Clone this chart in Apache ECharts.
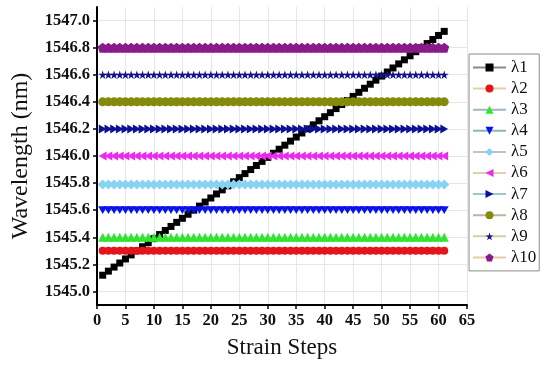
<!DOCTYPE html>
<html>
<head>
<meta charset="utf-8">
<script src="https://cdn.jsdelivr.net/npm/echarts@6/dist/echarts.min.js"></script>
<style>html,body{margin:0;padding:0;background:#fff}#c{width:550px;height:371px}</style>
</head>
<body>
<div id="c"></div>
<script>
const steps = [1,2,3,4,5,6,7,8,9,10,11,12,13,14,15,16,17,18,19,20,21,22,23,24,25,26,27,28,29,30,31,32,33,34,35,36,37,38,39,40,41,42,43,44,45,46,47,48,49,50,51,52,53,54,55,56,57,58,59,60,61];
const seriesNames = ['λ1','λ2','λ3','λ4','λ5','λ6','λ7','λ8','λ9','λ10'];
const yTicks = [1545.0,1545.2,1545.4,1545.6,1545.8,1546.0,1546.2,1546.4,1546.6,1546.8,1547.0];
const xTicks = [0,5,10,15,20,25,30,35,40,45,50,55,60,65];

const lambda1 = [1545.12,1545.15,1545.18,1545.21,1545.24,1545.27,1545.30,1545.33,1545.36,1545.39,
 1545.42,1545.45,1545.48,1545.51,1545.54,1545.57,1545.60,1545.63,1545.66,1545.69,
 1545.72,1545.75,1545.78,1545.81,1545.84,1545.87,1545.90,1545.93,1545.96,1545.99,
 1546.02,1546.05,1546.08,1546.11,1546.14,1546.17,1546.20,1546.23,1546.26,1546.29,
 1546.32,1546.35,1546.38,1546.41,1546.44,1546.47,1546.50,1546.53,1546.56,1546.59,
 1546.62,1546.65,1546.68,1546.71,1546.74,1546.77,1546.80,1546.83,1546.86,1546.89,1546.92];
const lambda2 = [1545.3,1545.3,1545.3,1545.3,1545.3,1545.3,1545.3,1545.3,1545.3,1545.3,1545.3,1545.3,1545.3,1545.3,1545.3,1545.3,1545.3,1545.3,1545.3,1545.3,1545.3,1545.3,1545.3,1545.3,1545.3,1545.3,1545.3,1545.3,1545.3,1545.3,1545.3,1545.3,1545.3,1545.3,1545.3,1545.3,1545.3,1545.3,1545.3,1545.3,1545.3,1545.3,1545.3,1545.3,1545.3,1545.3,1545.3,1545.3,1545.3,1545.3,1545.3,1545.3,1545.3,1545.3,1545.3,1545.3,1545.3,1545.3,1545.3,1545.3,1545.3];
const lambda3 = [1545.4,1545.4,1545.4,1545.4,1545.4,1545.4,1545.4,1545.4,1545.4,1545.4,1545.4,1545.4,1545.4,1545.4,1545.4,1545.4,1545.4,1545.4,1545.4,1545.4,1545.4,1545.4,1545.4,1545.4,1545.4,1545.4,1545.4,1545.4,1545.4,1545.4,1545.4,1545.4,1545.4,1545.4,1545.4,1545.4,1545.4,1545.4,1545.4,1545.4,1545.4,1545.4,1545.4,1545.4,1545.4,1545.4,1545.4,1545.4,1545.4,1545.4,1545.4,1545.4,1545.4,1545.4,1545.4,1545.4,1545.4,1545.4,1545.4,1545.4,1545.4];
const lambda4 = [1545.6,1545.6,1545.6,1545.6,1545.6,1545.6,1545.6,1545.6,1545.6,1545.6,1545.6,1545.6,1545.6,1545.6,1545.6,1545.6,1545.6,1545.6,1545.6,1545.6,1545.6,1545.6,1545.6,1545.6,1545.6,1545.6,1545.6,1545.6,1545.6,1545.6,1545.6,1545.6,1545.6,1545.6,1545.6,1545.6,1545.6,1545.6,1545.6,1545.6,1545.6,1545.6,1545.6,1545.6,1545.6,1545.6,1545.6,1545.6,1545.6,1545.6,1545.6,1545.6,1545.6,1545.6,1545.6,1545.6,1545.6,1545.6,1545.6,1545.6,1545.6];
const lambda5 = [1545.79,1545.79,1545.79,1545.79,1545.79,1545.79,1545.79,1545.79,1545.79,1545.79,1545.79,1545.79,1545.79,1545.79,1545.79,1545.79,1545.79,1545.79,1545.79,1545.79,1545.79,1545.79,1545.79,1545.79,1545.79,1545.79,1545.79,1545.79,1545.79,1545.79,1545.79,1545.79,1545.79,1545.79,1545.79,1545.79,1545.79,1545.79,1545.79,1545.79,1545.79,1545.79,1545.79,1545.79,1545.79,1545.79,1545.79,1545.79,1545.79,1545.79,1545.79,1545.79,1545.79,1545.79,1545.79,1545.79,1545.79,1545.79,1545.79,1545.79,1545.79];
const lambda6 = [1546.0,1546.0,1546.0,1546.0,1546.0,1546.0,1546.0,1546.0,1546.0,1546.0,1546.0,1546.0,1546.0,1546.0,1546.0,1546.0,1546.0,1546.0,1546.0,1546.0,1546.0,1546.0,1546.0,1546.0,1546.0,1546.0,1546.0,1546.0,1546.0,1546.0,1546.0,1546.0,1546.0,1546.0,1546.0,1546.0,1546.0,1546.0,1546.0,1546.0,1546.0,1546.0,1546.0,1546.0,1546.0,1546.0,1546.0,1546.0,1546.0,1546.0,1546.0,1546.0,1546.0,1546.0,1546.0,1546.0,1546.0,1546.0,1546.0,1546.0,1546.0];
const lambda7 = [1546.2,1546.2,1546.2,1546.2,1546.2,1546.2,1546.2,1546.2,1546.2,1546.2,1546.2,1546.2,1546.2,1546.2,1546.2,1546.2,1546.2,1546.2,1546.2,1546.2,1546.2,1546.2,1546.2,1546.2,1546.2,1546.2,1546.2,1546.2,1546.2,1546.2,1546.2,1546.2,1546.2,1546.2,1546.2,1546.2,1546.2,1546.2,1546.2,1546.2,1546.2,1546.2,1546.2,1546.2,1546.2,1546.2,1546.2,1546.2,1546.2,1546.2,1546.2,1546.2,1546.2,1546.2,1546.2,1546.2,1546.2,1546.2,1546.2,1546.2,1546.2];
const lambda8 = [1546.4,1546.4,1546.4,1546.4,1546.4,1546.4,1546.4,1546.4,1546.4,1546.4,1546.4,1546.4,1546.4,1546.4,1546.4,1546.4,1546.4,1546.4,1546.4,1546.4,1546.4,1546.4,1546.4,1546.4,1546.4,1546.4,1546.4,1546.4,1546.4,1546.4,1546.4,1546.4,1546.4,1546.4,1546.4,1546.4,1546.4,1546.4,1546.4,1546.4,1546.4,1546.4,1546.4,1546.4,1546.4,1546.4,1546.4,1546.4,1546.4,1546.4,1546.4,1546.4,1546.4,1546.4,1546.4,1546.4,1546.4,1546.4,1546.4,1546.4,1546.4];
const lambda9 = [1546.6,1546.6,1546.6,1546.6,1546.6,1546.6,1546.6,1546.6,1546.6,1546.6,1546.6,1546.6,1546.6,1546.6,1546.6,1546.6,1546.6,1546.6,1546.6,1546.6,1546.6,1546.6,1546.6,1546.6,1546.6,1546.6,1546.6,1546.6,1546.6,1546.6,1546.6,1546.6,1546.6,1546.6,1546.6,1546.6,1546.6,1546.6,1546.6,1546.6,1546.6,1546.6,1546.6,1546.6,1546.6,1546.6,1546.6,1546.6,1546.6,1546.6,1546.6,1546.6,1546.6,1546.6,1546.6,1546.6,1546.6,1546.6,1546.6,1546.6,1546.6];
const lambda10 = [1546.8,1546.8,1546.8,1546.8,1546.8,1546.8,1546.8,1546.8,1546.8,1546.8,1546.8,1546.8,1546.8,1546.8,1546.8,1546.8,1546.8,1546.8,1546.8,1546.8,1546.8,1546.8,1546.8,1546.8,1546.8,1546.8,1546.8,1546.8,1546.8,1546.8,1546.8,1546.8,1546.8,1546.8,1546.8,1546.8,1546.8,1546.8,1546.8,1546.8,1546.8,1546.8,1546.8,1546.8,1546.8,1546.8,1546.8,1546.8,1546.8,1546.8,1546.8,1546.8,1546.8,1546.8,1546.8,1546.8,1546.8,1546.8,1546.8,1546.8,1546.8];

const allValues = [lambda1,lambda2,lambda3,lambda4,lambda5,lambda6,lambda7,lambda8,lambda9,lambda10];

const styles = [
  {color:'#000000', line:'#8a8a8a', symbol:'rect', size:7},
  {color:'#e3141c', line:'#e6cfa8', symbol:'circle', size:8},
  {color:'#2ee62e', line:'#9fb4c4', symbol:'triangle', size:9},
  {color:'#0b10ee', line:'#8fb3b8', symbol:'path://M0,0 L100,0 L50,87 Z', size:9},
  {color:'#86d3f5', line:'#c0bfd8', symbol:'diamond', size:10},
  {color:'#ee2aee', line:'#e3d0a8', symbol:'path://M0,50 L87,0 L87,100 Z', size:9},
  {color:'#0d1094', line:'#9cc6cc', symbol:'path://M0,0 L87,50 L0,100 Z', size:9},
  {color:'#858a0c', line:'#b8b4a0', symbol:'circle', size:9},
  {color:'#14148a', line:'#d8cca0', symbol:'path://M50,0 L61,35 L98,35 L68,57 L79,91 L50,70 L21,91 L32,57 L2,35 L39,35 Z', size:9},
  {color:'#8a1a8a', line:'#e3cca8', symbol:'path://M50,0 L100,38 L81,100 L19,100 L0,38 Z', size:10}
];

const series = seriesNames.map((n,i)=>({
  name:n, type:'line',
  data: steps.map((s,j)=>[s, allValues[i][j]]),
  symbol: styles[i].symbol, symbolSize: styles[i].size, symbolKeepAspect:true,
  itemStyle:{color:styles[i].color},
  lineStyle:{color:styles[i].line, width:1},
  animation:false
}));

const serif = '"Liberation Serif","Times New Roman",serif';
const chart = echarts.init(document.getElementById('c'));
chart.setOption({
  backgroundColor:'#fff',
  animation:false,
  grid:{left:97, right:83, top:7, bottom:66},
  legend:{
    orient:'vertical', left:469, top:54,
    data: seriesNames,
    itemWidth:33, itemHeight:10, itemGap:4.1,
    padding:[5,3,5,3],
    borderColor:'#8c8c8c', borderWidth:1,
    textStyle:{fontFamily:serif, fontSize:17, color:'#111'}
  },
  xAxis:{
    type:'value', min:0, max:65, interval:5,
    name:'Strain Steps', nameLocation:'middle', nameGap:31,
    nameTextStyle:{fontFamily:serif, fontSize:23, color:'#111'},
    axisLine:{show:true, lineStyle:{color:'#000', width:2}},
    axisTick:{show:true, length:4, lineStyle:{color:'#000', width:1.5}},
    axisLabel:{fontFamily:serif, fontSize:16.5, fontWeight:'bold', color:'#111', margin:7},
    splitLine:{show:true, lineStyle:{color:'#e6e6e6', width:1}}
  },
  yAxis:{
    type:'value', min:1544.9, max:1547.1,
    name:'Wavelength (nm)', nameLocation:'middle', nameGap:64,
    nameTextStyle:{fontFamily:serif, fontSize:24, color:'#111'},
    axisLine:{show:true, lineStyle:{color:'#000', width:2}},
    axisTick:{show:true, length:4, customValues:yTicks, lineStyle:{color:'#000', width:1.5}},
    axisLabel:{customValues:yTicks, fontFamily:serif, fontSize:16.5, fontWeight:'bold', color:'#111', margin:7,
      formatter:v=>Number(v).toFixed(1)},
    splitLine:{show:true, lineStyle:{color:'#e6e6e6', width:1}}
  },
  series: series
});
</script>
</body>
</html>
